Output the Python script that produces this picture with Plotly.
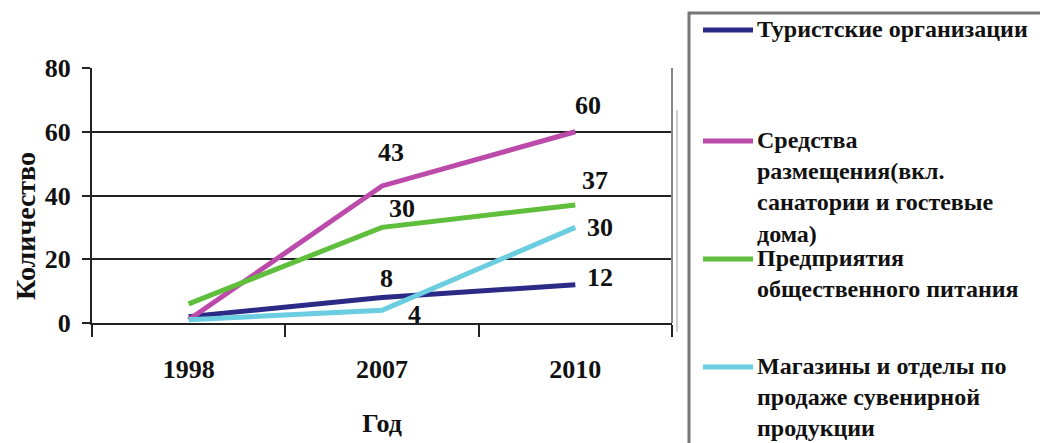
import plotly.graph_objects as go

years = ["1998", "2007", "2010"]
series_names = [
    "Туристские организации",
    "Средства<br>размещения(вкл.<br>санатории и гостевые<br>дома)",
    "Предприятия<br>общественного питания",
    "Магазины и отделы по<br>продаже сувенирной<br>продукции",
]
tour_orgs = [2, 8, 12]
accommodation = [1, 43, 60]
catering = [6, 30, 37]
souvenir_shops = [1, 4, 30]

colors = ["#2B2A86", "#BB4AAA", "#5FBE3C", "#6BCDE0"]
# label offsets (px) for the 2007 and 2010 points of each series
label_shift = [
    [None, (4, 19), (25, 7)],
    [None, (9, 33), (13, 26)],
    [None, (20, 19), (20, 25)],
    [None, (32, -4), (25, 0)],
]

OFF = 8  # page body margin
W, H = 1048, 443
L, R, T, B = 92 - OFF, 672 - OFF, 68 - OFF, 323 - OFF

def px_x(px):
    return (px - OFF - L) / (R - L)

def px_y(py):
    return (B - (py - OFF)) / (B - T)

FONT = "Liberation Serif"
fig = go.Figure()
all_vals = [tour_orgs, accommodation, catering, souvenir_shops]
annotations = []
for name, vals, col, shifts in zip(series_names, all_vals, colors, label_shift):
    fig.add_trace(go.Scatter(
        x=years, y=vals, mode="lines", name=name,
        line=dict(color=col, width=5), showlegend=False,
    ))
    for idx, (v, s) in enumerate(zip(vals, shifts)):
        if s is None:
            continue
        annotations.append(dict(x=idx, y=v, xref="x", yref="y", text="<b>%d</b>" % v,
                                showarrow=False, xshift=s[0], yshift=s[1],
                                xanchor="center", yanchor="middle",
                                font=dict(family=FONT, size=26, color="#111")))

shapes = []
# legend box
shapes.append(dict(type="rect", xref="paper", yref="paper",
                   x0=px_x(689), x1=px_x(1070), y0=px_y(13), y1=px_y(470),
                   line=dict(color="#777", width=3), fillcolor="rgba(0,0,0,0)"))
legend_y = [30, 141, 259, 367]
for name, col, ly in zip(series_names, colors, legend_y):
    shapes.append(dict(type="line", xref="paper", yref="paper",
                       x0=px_x(703), x1=px_x(753), y0=px_y(ly), y1=px_y(ly),
                       line=dict(color=col, width=5)))
    annotations.append(dict(xref="paper", yref="paper", x=px_x(755), y=px_y(ly - 16),
                            xanchor="left", yanchor="top", align="left", showarrow=False,
                            text="<b>" + name + "</b>",
                            font=dict(family=FONT, size=24, color="#111")))
# right plot border and outer chart border
shapes.append(dict(type="line", xref="paper", yref="paper", x0=1, x1=1, y0=0, y1=1,
                   line=dict(color="#888", width=2)))
shapes.append(dict(type="line", xref="paper", yref="paper", x0=px_x(677), x1=px_x(677),
                   y0=px_y(332), y1=px_y(110), line=dict(color="#ccc", width=2)))
# y axis title
annotations.append(dict(xref="paper", yref="paper", x=px_x(25), y=px_y(226),
                        text="<b>Количество</b>", textangle=-90, showarrow=False,
                        xanchor="center", yanchor="middle",
                        font=dict(family=FONT, size=28, color="#111")))

fig.update_layout(
    width=W, height=H,
    margin=dict(l=L, r=W - R, t=T, b=H - B),
    paper_bgcolor="white", plot_bgcolor="white",
    shapes=shapes, annotations=annotations,
    xaxis=dict(type="category", range=[-0.5, 2.5], tickson="boundaries", ticks="outside",
               ticklen=12, tickwidth=2, tickcolor="#222", showline=True, linecolor="#222",
               linewidth=2, showgrid=False, ticklabelstandoff=22,
               tickfont=dict(family=FONT, size=26, color="#111", weight="bold"),
               title=dict(text="<b>Год</b>", standoff=31,
                          font=dict(family=FONT, size=26, color="#111"))),
    yaxis=dict(range=[0, 80], dtick=20, ticks="outside", ticklen=8, tickwidth=2,
               tickcolor="#222", showline=True, linecolor="#222", linewidth=2,
               showgrid=True, gridcolor="#222", gridwidth=2, zeroline=False,
               ticklabelstandoff=6,
               tickfont=dict(family=FONT, size=26, color="#111", weight="bold")),
)

fig.write_html("out.html")
